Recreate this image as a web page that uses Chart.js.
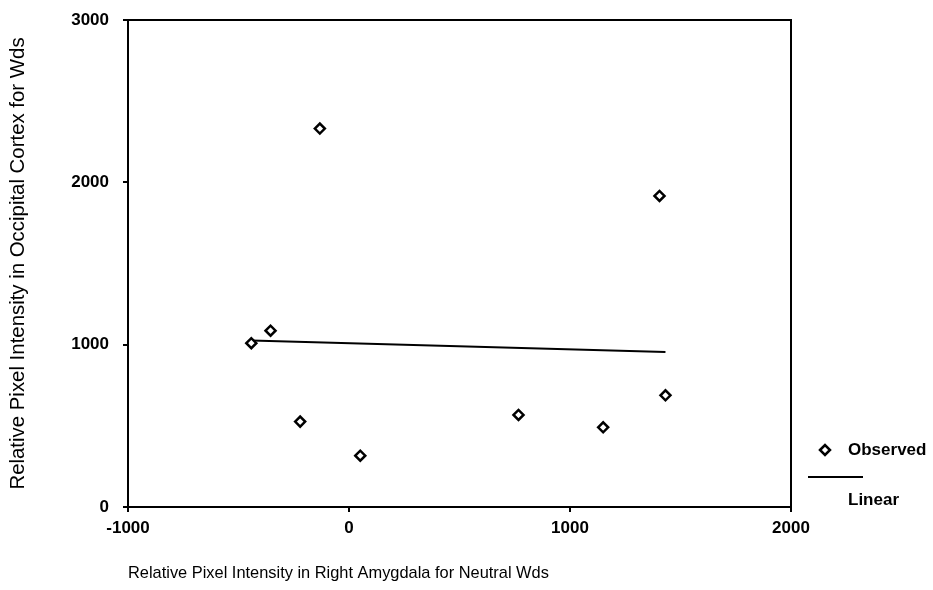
<!DOCTYPE html>
<html>
<head>
<meta charset="utf-8">
<script src="https://cdn.jsdelivr.net/npm/chart.js@4"></script>
<style>
  html, body { margin: 0; padding: 0; background: #fff; }
  #wrap { width: 933px; height: 590px; }
</style>
</head>
<body>
<div id="wrap"><canvas id="chart" width="933" height="590"></canvas></div>
<script>
// ----- DATOS ----- //
const obsX = [-442, -355, -221, -132, 51, 767, 1150, 1405, 1432];
const obsY = [1009, 1086, 526, 2331, 316, 567, 491, 1916, 688];
// recta de ajuste lineal (extremos)
const fitX = [-442, 1432];
const fitY = [1025, 955];
const xTicks = [-1000, 0, 1000, 2000];
const yTicks = [0, 1000, 2000, 3000];
const xTitle = "Relative Pixel Intensity in Right Amygdala for Neutral Wds";
const yTitle = "Relative Pixel Intensity in Occipital Cortex for Wds";
const legendLabels = ["Observed", "Linear"];

const FONT = "'Liberation Sans', Arial, sans-serif";

// marco del área + leyenda
const framePlugin = {
    id: "frame",
    afterDraw(chart) {
        const {ctx, chartArea: a} = chart;
        ctx.save();
        ctx.strokeStyle = "#000";
        ctx.lineWidth = 2;
        ctx.strokeRect(a.left, a.top, a.right - a.left, a.bottom - a.top);
        // leyenda
        const lx = a.right + 34, ly = 450;
        ctx.lineWidth = 2.5;
        ctx.beginPath();
        ctx.moveTo(lx - 5, ly); ctx.lineTo(lx, ly - 5); ctx.lineTo(lx + 5, ly); ctx.lineTo(lx, ly + 5); ctx.closePath();
        ctx.fillStyle = "#fff"; ctx.fill(); ctx.stroke();
        ctx.lineWidth = 2;
        ctx.beginPath();
        ctx.moveTo(a.right + 17, ly + 27); ctx.lineTo(a.right + 72, ly + 27);
        ctx.stroke();
        ctx.fillStyle = "#000";
        ctx.font = "bold 17px " + FONT;
        ctx.textBaseline = "middle";
        ctx.fillText(legendLabels[0], a.right + 57, ly);
        ctx.fillText(legendLabels[1], a.right + 57, ly + 50);
        ctx.restore();
    }
};

new Chart(document.getElementById("chart").getContext("2d"), {
    data: {
        datasets: [{
            type: "scatter",
            label: legendLabels[0],
            data: obsX.map((x, i) => ({x: x, y: obsY[i]})),
            pointStyle: "rectRot",
            pointRadius: 5,
            pointBorderWidth: 2.5,
            borderColor: "#000",
            backgroundColor: "#fff"
        }, {
            type: "line",
            label: legendLabels[1],
            data: fitX.map((x, i) => ({x: x, y: fitY[i]})),
            borderColor: "#000",
            borderWidth: 2,
            pointRadius: 0,
            fill: false
        }]
    },
    options: {
        responsive: false,
        animation: false,
        layout: {padding: {left: 0, top: 20, right: 142, bottom: 0}},
        plugins: {legend: {display: false}, tooltip: {enabled: false}},
        scales: {
            x: {
                type: "linear",
                min: -1000, max: 2000,
                afterBuildTicks: s => { s.ticks = xTicks.map(v => ({value: v})); },
                afterFit: s => { s.height = 83; s.paddingLeft = 0; s.paddingRight = 0; },
                grid: {drawOnChartArea: false, drawTicks: true, tickLength: 5, color: "#000", lineWidth: 2},
                border: {display: true, color: "#000", width: 2},
                ticks: {color: "#000", padding: 6, maxRotation: 0, callback: v => String(v),
                        font: {family: FONT, size: 17, weight: "bold"}},
                title: {display: true, text: xTitle, color: "#000", align: "start", padding: {bottom: 7},
                        font: {family: FONT, size: 16.4}}
            },
            y: {
                type: "linear",
                min: 0, max: 3000,
                afterBuildTicks: s => { s.ticks = yTicks.map(v => ({value: v})); },
                afterFit: s => { s.width = 128; s.paddingTop = 0; s.paddingBottom = 0; },
                grid: {drawOnChartArea: false, drawTicks: true, tickLength: 5, color: "#000", lineWidth: 2},
                border: {display: true, color: "#000", width: 2},
                ticks: {color: "#000", padding: 14, callback: v => String(v),
                        font: {family: FONT, size: 17, weight: "bold"}},
                title: {display: true, text: yTitle, color: "#000", padding: {top: 6},
                        font: {family: FONT, size: 20.4}}
            }
        }
    },
    plugins: [framePlugin]
});
</script>
</body>
</html>
